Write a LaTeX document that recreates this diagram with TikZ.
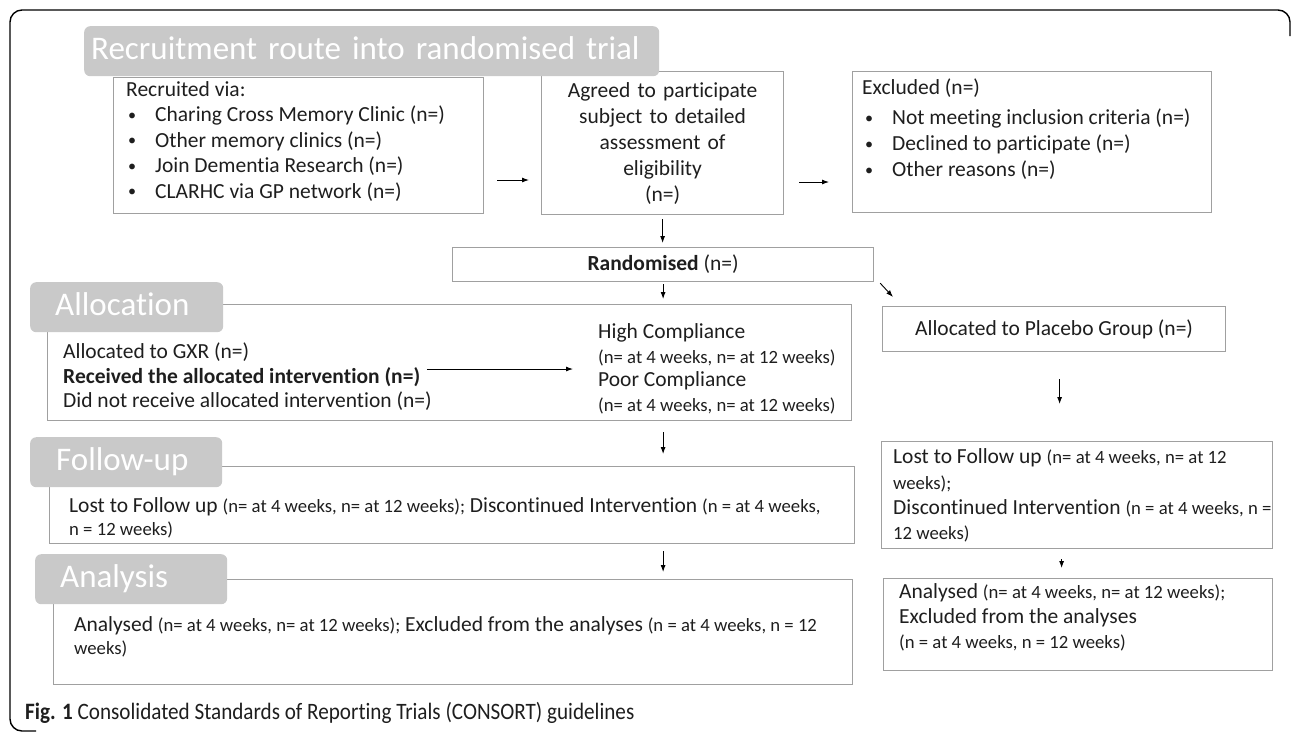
\documentclass[tikz,border=0pt]{standalone}
\usepackage{fontspec}
\setmainfont{Carlito}[Ligatures=NoCommon]
\newfontfamily\capfont{Carlito}[FakeStretch=0.9, Ligatures=NoCommon]
\usepackage{xcolor}
\usepackage{tikz}
\usetikzlibrary{calc,positioning,arrows.meta}

\definecolor{hdrgray}{HTML}{C9C9C9}
\definecolor{boxgray}{HTML}{A0A0A0}
\definecolor{txt}{HTML}{1E1E1E}

\newcommand{\maintxt}{\fontsize{21.5}{25.5}\selectfont}
\newcommand{\smalltxt}{\fontsize{18.7}{22}\selectfont}
\newcommand{\bul}[1][2pt]{\hspace*{#1}\makebox[27pt][l]{\raisebox{1.5pt}{\scalebox{0.75}{\textbullet}}}}

\begin{document}
\begin{tikzpicture}[
	%	style def
    x=1pt, y=-1pt,
    box/.style={draw=boxgray, line width=1.2pt, anchor=north west, inner sep=0pt, text=txt, font=\maintxt},
    stage/.style={fill=hdrgray, rounded corners=6pt, anchor=north west, inner ysep=0pt, minimum height=50pt, text=white, font=\fontsize{33}{38}\selectfont, text height=24pt, text depth=7pt, align=left},
    boxtext/.style={anchor=north west, inner sep=0pt, text=txt, font=\maintxt, align=left},
    arr/.style={-{Latex[length=7pt,width=5pt]}, line width=0.9pt}
    ]
    \useasboundingbox (0,0) rectangle (1292,732);

    % outer frame
    \draw[line width=1.4pt, rounded corners=12pt] (1290,36) -- (1290,10) -- (10,10) -- (10,731) -- (36,731);

    % recruitment
    \node[box, minimum width=370pt, minimum height=136pt] (recruited) at (113,77) {};
    \node[boxtext] (recruitedtxt) at (126,81) {Recruited via:\\ \bul Charing Cross Memory Clinic (n=)\\ \bul Other memory clinics (n=)\\ \bul Join Dementia Research (n=)\\ \bul CLARHC via GP network (n=)};
    \node[box, minimum width=242pt, minimum height=143pt, text width=230pt, align=center] (agreed) at (541,71) {Agreed to participate\\[0.5pt] subject to detailed\\[0.5pt] assessment of\\[0.5pt] eligibility\\[0.5pt] (n=)};
    \node[box, minimum width=359pt, minimum height=141pt] (excluded) at (852,71) {};
    \node[boxtext] (excludedtxt) at (862,79) {Excluded (n=)\\[4.5pt] \bul[3pt]Not meeting inclusion criteria (n=)\\[0.5pt] \bul[3pt]Declined to participate (n=)\\[0.5pt] \bul[3pt]Other reasons (n=)};
    \node[box, minimum width=421pt, minimum height=34pt] (randomised) at (452,247) {\textbf{Randomised} (n=)};

    % allocation
    \node[box, minimum width=804pt, minimum height=116pt] (allocbox) at (47,304) {};
    \node[boxtext] (gxr) at (63,343) {Allocated to GXR (n=)\\[-1pt] \textbf{Received the allocated intervention (n=)}\\[-1pt] Did not receive allocated intervention (n=)};
    \node[boxtext] (compliance) at (598,323) {High Compliance\\[-0.5pt] {\smalltxt (n= at 4 weeks, n= at 12 weeks)}\\[-2pt] Poor Compliance\\[-1pt] {\smalltxt (n= at 4 weeks, n= at 12 weeks)}};
    \node[box, minimum width=343pt, minimum height=45pt] (placebo) at (882,306) {Allocated to Placebo Group (n=)};

    % follow-up
    \node[box, minimum width=805pt, minimum height=77pt] (followbox) at (49,466) {};
    \node[boxtext] (followtxt) at (69,497) {Lost to Follow up {\smalltxt(n= at 4 weeks, n= at 12 weeks);} Discontinued Intervention {\smalltxt(n = at 4 weeks,}\\[-2.5pt] {\smalltxt n = 12 weeks)}};
    \node[box, minimum width=391pt, minimum height=107pt] (followR) at (881,441) {};
    \node[boxtext] (followRtxt) at (893,448) {Lost to Follow up {\smalltxt(n= at 4 weeks, n= at 12}\\[0.5pt] {\smalltxt weeks);}\\ Discontinued Intervention {\smalltxt(n = at 4 weeks, n =}\\[-1pt] {\smalltxt 12 weeks)}};

    % analysis
    \node[box, minimum width=799pt, minimum height=105pt] (analbox) at (53,579) {};
    \node[boxtext] (analtxt) at (74,616) {Analysed {\smalltxt(n= at 4 weeks, n= at 12 weeks);} Excluded from the analyses {\smalltxt(n = at 4 weeks, n = 12}\\[-2.5pt] {\smalltxt weeks)}};
    \node[box, minimum width=389pt, minimum height=92pt] (analR) at (883,578) {};
    \node[boxtext] (analRtxt) at (899,583) {Analysed {\smalltxt(n= at 4 weeks, n= at 12 weeks);}\\[-0.5pt] Excluded from the analyses\\[-0.5pt] {\smalltxt(n = at 4 weeks, n = 12 weeks)}};

    % stage headers
    \node[stage, text width=561pt, inner xsep=7pt] (hdrrecruit) at (84,26) {Recruitment route into randomised trial};
    \node[stage, text width=143pt, inner xsep=25pt] (hdralloc) at (30,282) {Allocation};
    \node[stage, text width=140pt, inner xsep=26pt] (hdrfollow) at (30,437) {Follow-up};
    \node[stage, text width=142pt, inner xsep=25pt] (hdranal) at (35,554) {Analysis};

    % arrows
    \draw[arr, shorten <=13pt, shorten >=12pt] (recruited.east |- 0,180) -- (agreed.west |- 0,180);
    \draw[arr, shorten <=15pt, shorten >=23pt] (agreed.east |- 0,182) -- (excluded.west |- 0,182);
    \draw[arr, shorten <=4pt, shorten >=4pt] (agreed.south) -- (agreed.south |- randomised.north);
    \draw[arr, shorten <=2pt, shorten >=5pt] (randomised.south) -- (randomised.south |- allocbox.north);
    \draw[arr] ([shift={(6,1)}]randomised.south east) -- ([shift={(11,-9)}]placebo.north west);
    \draw[arr, shorten <=-5pt, shorten >=25pt] (gxr.east |- 0,369) -- (compliance.west |- 0,369);
    \draw[arr, shorten <=11pt, shorten >=12pt] (allocbox.south -| randomised.south) -- (followbox.north -| randomised.south);
    \draw[arr, shorten <=7pt, shorten >=7pt] (followbox.south -| randomised.south) -- (analbox.north -| randomised.south);
    \draw[arr, shorten <=27pt, shorten >=37pt] ($(placebo.south)+(5.5,0)$) -- ($(placebo.south |- followR.north)+(5.5,0)$);
    \draw[arr, shorten <=10pt, shorten >=10pt] ($(followR.south)+(-15.5,0)$) -- ($(followR.south |- analR.north)+(-15.5,0)$);

    % caption
    \node[anchor=west, inner sep=0pt, text=txt, font=\capfont\fontsize{23.5}{28}\selectfont] (caption) at (25,713) {\textbf{Fig. 1} Consolidated Standards of Reporting Trials (CONSORT) guidelines};
\end{tikzpicture}
\end{document}
